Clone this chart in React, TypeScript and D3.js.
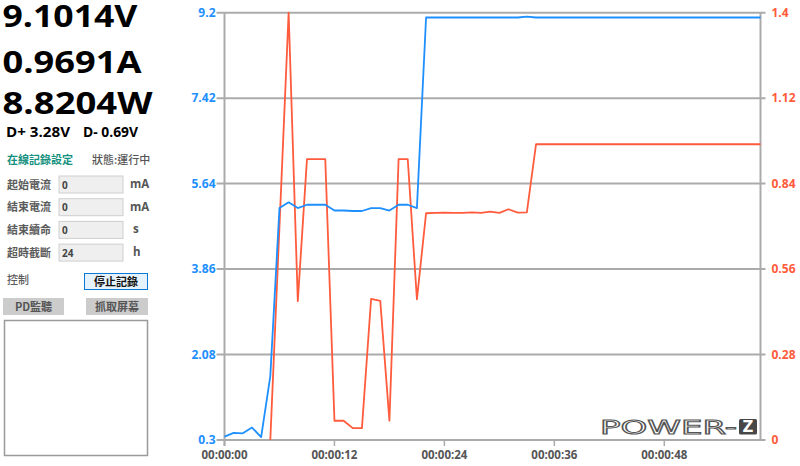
import React from 'react';
import * as d3 from 'd3';

// 讀數 (左側面板)
const readings = ['9.1014V', '0.9691A', '8.8204W'];
const dataLines = ['D+ 3.28V', 'D- 0.69V'];

// 記錄設定欄位
const settingLabels = ['起始電流', '結束電流', '結束續命', '超時截斷'];
const settingValues = ['0', '0', '0', '24'];
const settingUnits = ['mA', 'mA', 's', 'h'];

// 採樣時間 (秒)
const sampleSeconds = d3.range(0, 59).concat([58.5]);

// 電壓 (V)
const voltage = [
  0.37, 0.45, 0.44, 0.56, 0.36, 1.63, 5.13, 5.25, 5.13, 5.2,
  5.2, 5.2, 5.08, 5.08, 5.07, 5.07, 5.13, 5.13, 5.08, 5.2,
  5.2, 5.13, 9.1, 9.1, 9.1, 9.1, 9.1, 9.1, 9.1, 9.1,
  9.1, 9.1, 9.1, 9.12, 9.1, 9.1, 9.1, 9.1, 9.1, 9.1,
  9.1, 9.1, 9.1, 9.1, 9.1, 9.1, 9.1, 9.1, 9.1, 9.1,
  9.1, 9.1, 9.1, 9.1, 9.1, 9.1, 9.1, 9.1, 9.1, 9.1
];

// 電流 (A), 前 5 秒無數據
const current: (number | null)[] = [
  null, null, null, null, null, 0, 0.7, 1.4, 0.455, 0.92,
  0.92, 0.92, 0.063, 0.063, 0.039, 0.039, 0.462, 0.456, 0.063, 0.92,
  0.92, 0.461, 0.743, 0.744, 0.745, 0.744, 0.744, 0.746, 0.744, 0.748,
  0.744, 0.756, 0.745, 0.746, 0.969, 0.969, 0.969, 0.969, 0.969, 0.969,
  0.969, 0.969, 0.969, 0.969, 0.969, 0.969, 0.969, 0.969, 0.969, 0.969,
  0.969, 0.969, 0.969, 0.969, 0.969, 0.969, 0.969, 0.969, 0.969, 0.969
];

const voltTicks = [0.3, 2.08, 3.86, 5.64, 7.42, 9.2];
const ampTicks = [0, 0.28, 0.56, 0.84, 1.12, 1.4];
const timeTicks = [0, 12, 24, 36, 48];

const BLUE = '#1e8fff';
const RED = '#ff5b3c';
const GRID = '#ababab';
const FONT = '"Open Sans", "Noto Sans", sans-serif';
const CJK = '"Noto Sans CJK TC", "Noto Sans", sans-serif';

const fmtTime = (s: number) => {
  const m = Math.floor(s / 60);
  const sec = s % 60;
  return `00:${String(m).padStart(2, '0')}:${String(sec).padStart(2, '0')}`;
};

const left = 224.5;
const right = 760.5;
const top = 12.7;
const bottom = 440;

const App: React.FC = () => {
  const x = d3.scaleLinear().domain([0, 58.5]).range([left, right]);
  const yV = d3.scaleLinear().domain([0.3, 9.2]).range([bottom, top]);
  const yA = d3.scaleLinear().domain([0, 1.4]).range([bottom, top]);

  const vLine = d3.line<number>()
    .x((_, i) => x(sampleSeconds[i]))
    .y(d => yV(d));

  const aLine = d3.line<number | null>()
    .defined(d => d !== null)
    .x((_, i) => x(sampleSeconds[i]))
    .y(d => yA(d as number));

  const readingWidths = [135, 139, 150];
  const readingBase = [26.5, 72.5, 114];

  return (
    <svg width={800} height={466} style={{ position: 'absolute', left: 0, top: 0, background: '#fff' }}>
      {/* 左側面板 */}
      {readings.map((r, i) => (
        <text key={r} x={2.5} y={readingBase[i]} fontFamily={FONT} fontWeight={700} fontSize={30}
          fill="#000" textLength={readingWidths[i]} lengthAdjust="spacingAndGlyphs">{r}</text>
      ))}
      <text x={6} y={137} fontFamily={FONT} fontWeight={700} fontSize={15} fill="#000"
        textLength={64} lengthAdjust="spacingAndGlyphs">{dataLines[0]}</text>
      <text x={83} y={137} fontFamily={FONT} fontWeight={700} fontSize={15} fill="#000"
        textLength={55} lengthAdjust="spacingAndGlyphs">{dataLines[1]}</text>

      <text x={7} y={164} fontFamily={CJK} fontSize={11} fontWeight={700} fill="#16917f">在線記錄設定</text>
      <text x={92} y={164} fontFamily={CJK} fontSize={11} fontWeight={500} fill="#555">狀態:運行中</text>

      {settingLabels.map((lab, i) => {
        const boxTop = 176 + i * 22.7;
        return (
          <g key={lab}>
            <text x={7} y={boxTop + 12.5} fontFamily={CJK} fontSize={11} fontWeight={700} fill="#5c5c5c">{lab}</text>
            <rect x={59} y={boxTop} width={64} height={17} fill="#efefef" stroke="#cfcfcf" strokeWidth={1} />
            <text x={62} y={boxTop + 12.5} fontFamily={FONT} fontSize={10} fontWeight={700} fill="#444">{settingValues[i]}</text>
            <text x={settingUnits[i].length > 1 ? 130 : 133} y={boxTop + 12} fontFamily={FONT} fontSize={11.5}
              fontWeight={700} fill="#555">{settingUnits[i]}</text>
          </g>
        );
      })}

      <text x={7} y={284} fontFamily={CJK} fontSize={11} fontWeight={500} fill="#5c5c5c">控制</text>
      <rect x={84.5} y={273.5} width={63} height={16} fill="#e5f1fb" stroke="#0a78d7" strokeWidth={1} />
      <text x={116} y={285.5} textAnchor="middle" fontFamily={CJK} fontSize={11} fontWeight={700} fill="#111">停止記錄</text>
      <rect x={3} y={298} width={61} height={17} fill="#cccccc" />
      <text x={33.5} y={310.5} textAnchor="middle" fontFamily={CJK} fontSize={11} fontWeight={700} fill="#555">PD監聽</text>
      <rect x={86} y={298} width={62} height={17} fill="#cccccc" />
      <text x={117} y={310.5} textAnchor="middle" fontFamily={CJK} fontSize={11} fontWeight={700} fill="#555">抓取屏幕</text>
      <rect x={4.5} y={320.5} width={143} height={135} fill="#fff" stroke="#9a9a9a" strokeWidth={1.5} />

      {/* 網格與軸 */}
      {voltTicks.map(t => (
        <line key={t} x1={left - 8} x2={right + 5} y1={yV(t)} y2={yV(t)} stroke={GRID} strokeWidth={2} />
      ))}
      <line x1={left} x2={left} y1={top} y2={bottom + 6} stroke={GRID} strokeWidth={2} />
      <line x1={right} x2={right} y1={top} y2={bottom} stroke={GRID} strokeWidth={2} />
      {timeTicks.map(t => (
        <line key={t} x1={x(t)} x2={x(t)} y1={bottom} y2={bottom + 6} stroke={GRID} strokeWidth={1.5} />
      ))}

      {voltTicks.map(t => (
        <text key={t} x={left - 9} y={yV(t)} dy="0.35em" textAnchor="end" fontFamily={FONT}
          fontWeight={700} fontSize={12} fill={BLUE}>{t}</text>
      ))}
      {ampTicks.map(t => (
        <text key={t} x={right + 11} y={yA(t)} dy="0.35em" fontFamily={FONT}
          fontWeight={700} fontSize={12} fill={RED}>{t}</text>
      ))}
      {timeTicks.map(t => (
        <text key={t} x={x(t)} y={455} dy="0.35em" textAnchor="middle" fontFamily={FONT}
          fontWeight={700} fontSize={11.5} fill="#555">{fmtTime(t)}</text>
      ))}

      {/* 數據線 */}
      <path d={aLine(current) || ''} fill="none" stroke={RED} strokeWidth={1.8} strokeLinejoin="round" />
      <path d={vLine(voltage) || ''} fill="none" stroke={BLUE} strokeWidth={1.8} strokeLinejoin="round" />

      {/* 標誌 */}
      <text x={600} y={434} fontFamily='"DejaVu Sans", sans-serif' fontSize={19} fill="none" stroke="#555"
        strokeWidth={1} textLength={137} lengthAdjust="spacingAndGlyphs">POWER-</text>
      <rect x={739} y={419} width={18} height={15.5} rx={1.5} fill="#474747" />
      <text x={748} y={432} textAnchor="middle" fontFamily='"DejaVu Sans", sans-serif' fontSize={15}
        fontWeight={700} fill="#fff">Z</text>
    </svg>
  );
};

export default App;
